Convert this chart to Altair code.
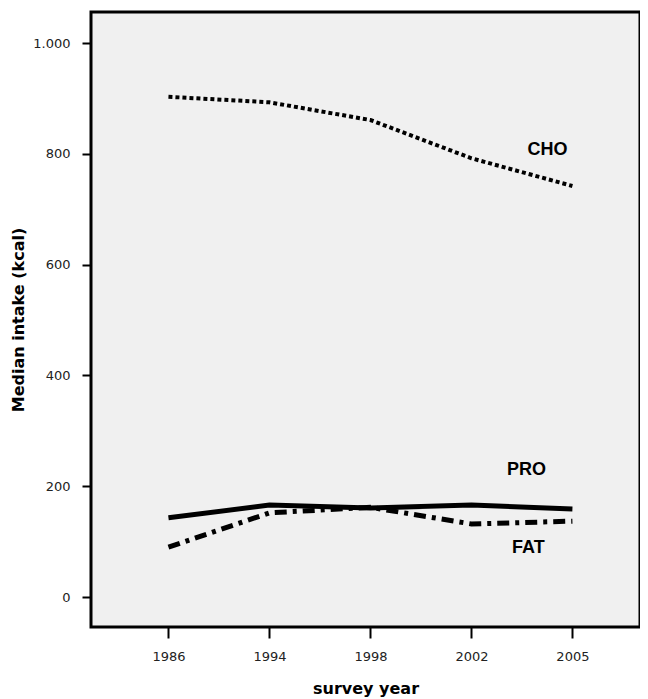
import altair as alt
import pandas as pd

years = ["1986", "1994", "1998", "2002", "2005"]
cho = [903, 893, 861, 792, 742]
pro = [143, 166, 161, 166, 159]
fat = [90, 152, 162, 132, 137]

label_names = ["CHO", "PRO", "FAT"]
label_years = ["2005", "2005", "2005"]
label_values = [807, 229, 89]
label_dx = [-25, -46, -44]

rows = []
for name, vals in [("CHO", cho), ("PRO", pro), ("FAT", fat)]:
    for y, v in zip(years, vals):
        rows.append({"year": y, "value": v, "series": name})
df = pd.DataFrame(rows)

labels = pd.DataFrame({"name": label_names, "year": label_years,
                       "value": label_values, "dx": label_dx})

FONT = "Liberation Sans"
TFONT = "DejaVu Sans"

x_enc = alt.X("year:O", sort=years,
              scale=alt.Scale(type="point", padding=0.718, align=0.534),
              axis=alt.Axis(title="survey year", labelAngle=0, domain=False,
                            tickSize=11, tickWidth=2, tickColor="black",
                            labelPadding=12, labelFontSize=13, labelColor="#222",
                            labelFont=TFONT, titleFont=TFONT, titleFontSize=16,
                            titleFontWeight="bold", titleColor="black",
                            titleY=61, titleBaseline="middle"))
y_enc = alt.Y("value:Q",
              scale=alt.Scale(domain=[-54, 1056], nice=False, zero=False),
              axis=alt.Axis(title="Median intake (kcal)", values=[0, 200, 400, 600, 800, 1000],
                            labelExpr="datum.value == 1000 ? '1.000' : datum.label",
                            domain=False, grid=False, tickSize=9, tickWidth=2,
                            tickColor="black", labelPadding=12, labelFontSize=13,
                            labelColor="#222", labelFont=TFONT, titleFont=TFONT,
                            titleFontSize=16, titleFontWeight="bold", titleColor="black",
                            titleAngle=-90, titleX=-73, titleY=307.5,
                            titleAlign="center", titleBaseline="middle"))

base = alt.Chart(df).encode(x=x_enc, y=y_enc)

cho_line = base.transform_filter(alt.datum.series == "CHO").mark_line(
    color="black", strokeWidth=4, strokeDash=[4, 3], strokeCap="butt")
pro_line = base.transform_filter(alt.datum.series == "PRO").mark_line(
    color="black", strokeWidth=5)
fat_line = base.transform_filter(alt.datum.series == "FAT").mark_line(
    color="black", strokeWidth=5, strokeDash=[12, 6, 4, 6], strokeCap="butt")

text_layers = []
for n, d in zip(label_names, label_dx):
    text_layers.append(
        alt.Chart(labels).transform_filter(alt.datum.name == n).mark_text(
            font=FONT, fontSize=18, fontWeight="bold", color="black",
            align="center", baseline="middle", dx=d).encode(
            x=alt.X("year:O", sort=years), y="value:Q", text="name:N"))

chart = alt.layer(cho_line, pro_line, fat_line, *text_layers).properties(
    width=549, height=615,
    background="white",
    autosize=alt.AutoSizeParams(type="none"),
    padding={"left": 83, "top": 4, "right": 0, "bottom": 72},
).configure_view(
    fill="#f0f0f0", stroke="black", strokeWidth=3
)

chart.save("out.html", embed_options={"renderer": "svg", "actions": False})
